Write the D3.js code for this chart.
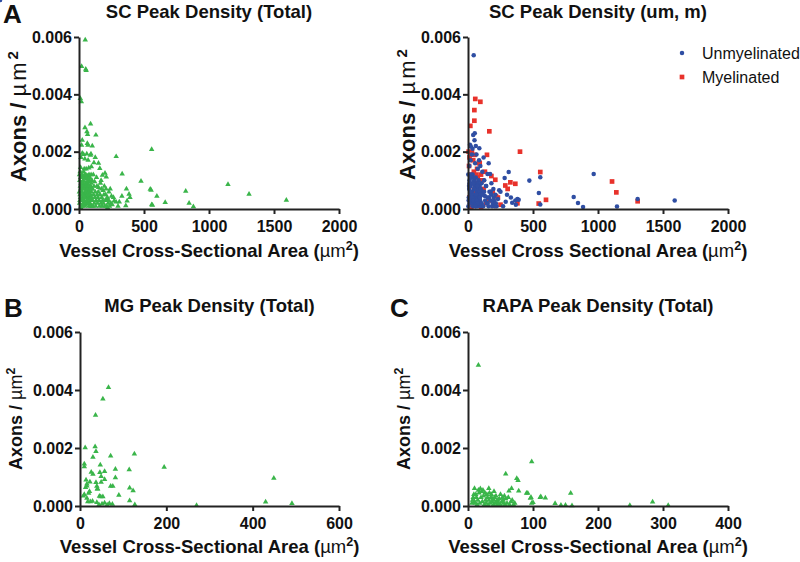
<!DOCTYPE html>
<html><head><meta charset="utf-8">
<script src="https://cdn.jsdelivr.net/npm/d3@7"></script>
<style>body{margin:0;background:#fff} svg{display:block} text{font-family:Arial,"Liberation Sans",sans-serif}</style>
</head><body><svg id="c" width="800" height="562"></svg>
<script>
// ---------- DATA ----------
const yTicks = [0, 0.002, 0.004, 0.006];
const scXTicks = [0, 500, 1000, 1500, 2000];
const mgXTicks = [0, 200, 400, 600];
const rapaXTicks = [0, 100, 200, 300, 400];
const titles = ["SC Peak Density (Total)", "SC Peak Density (um, m)", "MG Peak Density (Total)", "RAPA Peak Density (Total)"];
const legendLabels = ["Unmyelinated", "Myelinated"];

// SC total (green)
const scTotalX = [48,20,52,55,10,18,89,46,61,66,130,25,20,64,69,102,559,286,25,35,60,88,92,125,15,45,70,150,115,160,95,40,55,12,75,180,200,210,332,477,548,555,599,821,663,559,565,847,880,1146,1308,1595,
 365,385,392,370,360,330,310,285,270,250,240,230,225,215,220,205,195,185,170,165,150,140,135,120,110,105,100,
 5,8,10,12,15,18,20,22,25,28,30,32,35,38,40,42,45,48,50,52,55,58,60,62,65,68,70,72,75,78,80,82,85,88,90,92,95,98,6,9,14,16,24,27,33,36,44,47,53,57,63,66,74,77,84,87,94,3,4,7,11,13,17,19,21,23,26,29,31,34,37,39,41,43,46,49,51,54,56,59,61,64,67,69,71,73,76,79,81,83,86,89,91,93,96,99,
 105,108,112,115,118,122,125,128,132,138,142,145,148,155,158,162,168,172,175,178,182,188,192,198,202,208,212,218,228,235,245,255,265,300];
const scTotalY = [.0059,.00497,.00488,.00483,.00386,.00374,.00297,.00284,.0027,.0026,.00258,.0024,.00223,.00229,.00223,.0022,.00208,.00183,.00195,.0019,.00192,.00188,.00192,.0018,.0018,.00175,.0017,.0016,.00162,.00142,.00148,.0014,.0014,.00145,.00143,.00118,.00125,.00112,.00122,.00097,.00069,.00066,.00045,.00062,.00023,.00015,.00013,.0002,.00008,.00086,.00052,.00031,
 .0007,.00052,.0004,.00028,.00012,.00045,.00025,.00025,.00028,.00045,.0007,.0006,.0002,.00035,.00005,.0005,.0008,.00065,.001,.0009,.00075,.0005,.0011,.00095,.0012,.0007,.001,
 .0002,.0005,.0008,.0011,.0003,.0006,.0009,.0012,.0001,.0004,.0007,.001,.0013,.0002,.0005,.0008,.0011,.00015,.00045,.00075,.00105,.00025,.00055,.00085,.00115,.00035,.00065,.00095,.0001,.0004,.0007,.001,.0002,.0005,.0008,.0003,.0006,.0001,.001,.0013,.00005,.0009,.0006,.0011,.0003,.0008,.0001,.0006,.0012,.0004,.0009,.0002,.0005,.0012,.0008,.0003,.0009,.0006,.0012,.0003,.0004,.0007,.0001,.0011,.0003,.0008,.0005,.0009,.0002,.0005,.0011,.0007,.0003,.0012,.0004,.0009,.0002,.0006,.0008,.0011,.0003,.0007,.0005,.001,.0002,.0008,.0006,.0002,.0005,.0011,.0007,.0001,.0004,.0012,.0004,.0007,
 .0003,.0001,.0005,.0008,.0002,.0004,.0006,.0001,.0003,.0008,.0002,.0004,.0006,.0003,.0001,.0005,.0002,.0007,.0004,.0001,.0003,.0002,.0005,.0001,.0003,.0007,.0001,.0004,.0003,.0001,.0002,.00015,.0004,.0001];

// SC unmyelinated (blue)
const scUmX = [44,40,52,15,22,87,120,159,313,472,556,967,282,150,170,545,556,813,846,885,1146,1305,1590,364,380,390,368,330,340,300,290,270,250,240,230,220,210,200,195,180,175,160,150,140,130,125,115,110,105,100,95,85,75,65,55,30,20,10,60,50,35,
 3,6,9,12,15,18,21,24,27,30,33,36,39,42,45,48,51,54,57,60,63,66,69,72,75,78,81,84,87,90,93,96,99,5,11,17,23,29,35,41,47,53,59,65,71,77,83,89,95,2,8,14,20,26,32,38,44,50,56,62,68,74,80,86,92,98,
 105,112,118,124,132,138,145,152,158,165,172,178,185,192,198,206,214,225,236];
const scUmY = [.00536,.00258,.00264,.00224,.00218,.00212,.0018,.0016,.00129,.00099,.00111,.00122,.00108,.00122,.00122,.00056,.00016,.00042,.00021,.00007,.00009,.00035,.0003,.0003,.00035,.00032,.00015,.0004,.00022,.0005,.00025,.0001,.0006,.00065,.00035,.0001,.0005,.0003,.0007,.0009,.0006,.0004,.0002,.0008,.00045,.001,.0006,.0013,.0009,.0002,.0015,.0017,.0014,.0019,.0016,.0019,.0017,.0015,.0022,.0024,.0021,
 .0001,.0004,.0007,.001,.0002,.0005,.0008,.0011,.0003,.0006,.0009,.0012,.0001,.0004,.0007,.001,.0002,.0005,.0008,.0011,.0003,.0006,.0009,.0001,.0004,.0007,.001,.0002,.0005,.0008,.0003,.0006,.0001,.0003,.0009,.0006,.0012,.0002,.0005,.0011,.0004,.0008,.0001,.0007,.0004,.0009,.0002,.0006,.0005,.0012,.0008,.0002,.0006,.0011,.0004,.0009,.0003,.0007,.0001,.0005,.0003,.0008,.0002,.0004,
 .0004,.0007,.0002,.0005,.0001,.0006,.0003,.0008,.0002,.0004,.0001,.0006,.0003,.0005,.0001,.0002,.0004,.0001,.0002];

// SC myelinated (red)
const scMX = [56,95,49,49,18,164,5,30,50,146,400,556,1108,1141,600,1305,544,364,326,287,210,180,100,110,90,40,70,130,190,230,160,380,100,20,15,60,80,120,140,10,35,55,75,25,215,305,250,8,12,45,65,85,28];
const scMY = [.00384,.00374,.00345,.00308,.0029,.00271,.002,.00198,.00189,.00189,.002,.00129,.00096,.00058,.00032,.00027,.00019,.00088,.00093,.00082,.00102,.00115,.0012,.001,.0016,.0017,.0014,.0013,.0006,.0004,.0003,.0002,.00005,.0012,.0008,.0009,.0005,.0007,.0002,.0004,.0002,.0006,.0011,.00005,.00045,.0007,.00015,.0015,.0018,.0013,.0012,.0016,.0019];

// MG total (green)
const mgX = [66,53,36,12,35,37,30,71,126,195,10,10,47,82,114,26,30,46,57,49,57,82,14,23,16,37,49,13,16,39,41,40,71,76,115,123,22,20,10,8,90,48,53,45,16,18,24,29,39,44,51,57,63,68,75,115,127,270,430,449,491];
const mgY = [.00409,.00369,.00313,.00201,.00205,.00188,.00168,.00173,.0018,.00134,.00145,.00136,.00142,.00127,.00125,.00117,.0011,.00116,.00119,.00102,.00092,.00098,.0009,.00083,.00069,.00081,.00082,.00064,.00076,.00068,.00059,.00059,.00068,.00068,.00062,.00053,.0005,.00044,.0004,.00035,.00037,.00032,.00032,.00034,.00027,.00015,.00015,.00017,.00012,.00005,.00007,.00011,.00004,.00009,.00006,.00018,.00005,.00002,.00014,.00096,.00009];

// RAPA total (green)
const rapaX = [16,98,58,75,77,10,32,40,63,67,78,90,92,111,112,119,158,96,97,134,143,150,160,98,100,249,284,308,
 8,10,12,14,15,17,18,20,21,22,24,25,26,27,28,29,30,31,32,33,34,35,36,37,38,39,40,41,42,43,44,45,46,47,48,50,52,54,55,57,58,60,62,64,66,68,70,72,16,19,23,9,11,13,6,7,50,53,56];
const rapaY = [.00486,.00153,.00111,.00095,.00088,.00061,.00061,.0005,.00052,.00061,.00052,.00044,.00044,.0003,.00032,.00028,.00044,.00027,.0003,.00009,.00003,.00003,.00001,.0001,.00012,.00002,.00014,.00002,
 .0003,.00015,.0004,.00005,.0002,.00045,.0001,.0003,.0005,.00015,.00035,.00005,.00045,.0002,.0001,.0004,.0003,.00005,.0002,.00045,.0001,.0003,.0004,.00015,.00025,.00005,.0002,.0003,.0001,.00035,.00015,.00005,.0002,.0001,.00025,.00005,.00015,.0002,.0001,.00005,.00025,.0001,.0003,.00005,.00015,.0002,.00005,.0001,.00055,.0006,.00055,.0004,.0001,.0003,.0001,.0002,.0004,.0003,.00035];

// ---------- DRAW ----------
const GREEN = "#3ab54a", BLUE = "#2f4ea3", RED = "#e8322b";
const svg = d3.select("#c");
const zip = (xs, ys) => xs.map((v, i) => [v, ys[i]]);

function axisTitle(g, parts, attrs) {
  const t = g.append("text").attr("font-weight", "bold");
  Object.entries(attrs).forEach(([k, v]) => t.attr(k, v));
  parts.forEach(p => {
    const s = t.append("tspan").text(p.t);
    if (p.w) s.attr("font-weight", p.w);
    if (p.ls) s.attr("letter-spacing", p.ls);
    if (p.sup) s.attr("font-size", "0.68em").attr("dy", "-0.55em");
    if (p.down) s.attr("dy", "0.37em");
  });
  return t;
}

function panel(o) {
  const x = d3.scaleLinear().domain(o.xDomain).range([o.x0, o.x1]);
  const y = d3.scaleLinear().domain([0, 0.006]).range([o.y0, o.y1]);
  const g = svg.append("g");
  o.series.forEach(s => {
    const sym = d3.symbol().type(s.shape).size(s.size);
    g.append("g").selectAll("path").data(zip(s.xs, s.ys)).join("path")
      .attr("d", sym).attr("fill", s.color)
      .attr("transform", d => `translate(${x(d[0])},${y(d[1])})`);
  });
  const ya = g.append("g").attr("transform", `translate(${o.x0},0)`)
    .call(d3.axisLeft(y).tickValues(yTicks).tickFormat(d3.format(".3f")).tickSize(5).tickPadding(2).tickSizeOuter(0));
  const xa = g.append("g").attr("transform", `translate(0,${o.y0})`)
    .call(d3.axisBottom(x).tickValues(o.xTicks).tickFormat(d3.format("d")).tickSize(5).tickPadding(7).tickSizeOuter(0));
  [ya, xa].forEach(a => {
    a.attr("font-size", null).attr("font-family", null);
    a.select(".domain").attr("stroke", "#222").attr("stroke-width", 2);
    a.selectAll(".tick line").attr("stroke", "#222").attr("stroke-width", 2);
    a.selectAll(".tick text").attr("fill", "#111").attr("font-size", "16px").attr("font-weight", "bold");
  });
  const cx = (o.x0 + o.x1) / 2;
  g.append("text").attr("x", cx).attr("y", o.titleY).attr("text-anchor", "middle")
    .attr("font-size", "18.5px").attr("font-weight", "bold").attr("fill", "#111").text(o.title);
  axisTitle(g, [{t: "Axons / "}, {t: "µm", w: "normal", ls: o.muLs}, {t: "2", sup: true}],
    {transform: `translate(${o.ylx},${o.yly}) rotate(-90)`, "font-size": o.ylFont + "px", fill: "#111"});
  axisTitle(g, [{t: o.xlabel}, {t: "µm", w: "normal"}, {t: "2", sup: true}, {t: ")", down: true}],
    {x: cx, y: o.xly, "font-size": "18.5px", fill: "#111", "text-anchor": "middle"});
  if (o.letter) g.append("text").attr("x", o.letter[1]).attr("y", o.letter[2]).attr("font-size", "26px")
    .attr("font-weight", "bold").attr("fill", "#111").text(o.letter[0]);
  return {x, y, g};
}

const tri = d3.symbolTriangle, circ = d3.symbolCircle, sq = d3.symbolSquare;

panel({x0: 79, x1: 339, y0: 209, y1: 37, xDomain: [0, 2000], xTicks: scXTicks, title: titles[0], titleY: 18,
  series: [{xs: scTotalX, ys: scTotalY, shape: tri, size: 13, color: GREEN}],
  ylx: 26, yly: 182, ylFont: 22, muLs: "3px", xlabel: "Vessel Cross-Sectional Area (", xly: 257,
  letter: ["A", 3, 23]});

panel({x0: 468, x1: 728, y0: 209, y1: 37, xDomain: [0, 2000], xTicks: scXTicks, title: titles[1], titleY: 18,
  series: [{xs: scMX, ys: scMY, shape: sq, size: 22, color: RED},
           {xs: scUmX, ys: scUmY, shape: circ, size: 16, color: BLUE}],
  ylx: 415, yly: 180, ylFont: 22, muLs: "3px", xlabel: "Vessel Cross Sectional Area (", xly: 257});

panel({x0: 80, x1: 339, y0: 506, y1: 332, xDomain: [0, 600], xTicks: mgXTicks, title: titles[2], titleY: 312,
  series: [{xs: mgX, ys: mgY, shape: tri, size: 13, color: GREEN}],
  ylx: 22, yly: 470, ylFont: 18, muLs: null, xlabel: "Vessel Cross-Sectional Area  (", xly: 553,
  letter: ["B", 4, 317]});

panel({x0: 468, x1: 728, y0: 506, y1: 332, xDomain: [0, 400], xTicks: rapaXTicks, title: titles[3], titleY: 312,
  series: [{xs: rapaX, ys: rapaY, shape: tri, size: 13, color: GREEN}],
  ylx: 410, yly: 470, ylFont: 18, muLs: null, xlabel: "Vessel Cross-Sectional Area (", xly: 553,
  letter: ["C", 390, 317]});

// legend
const lg = svg.append("g").attr("transform", "translate(682,0)");
const legendShapes = [[circ, 16, BLUE, 53], [sq, 22, RED, 77]];
legendShapes.forEach((s, i) => {
  lg.append("path").attr("d", d3.symbol().type(s[0]).size(s[1])()).attr("fill", s[2]).attr("transform", `translate(0,${s[3]})`);
  lg.append("text").attr("x", 20).attr("y", s[3] + 6).attr("font-size", "16px").attr("fill", "#111").text(legendLabels[i]);
});
</script></body></html>
